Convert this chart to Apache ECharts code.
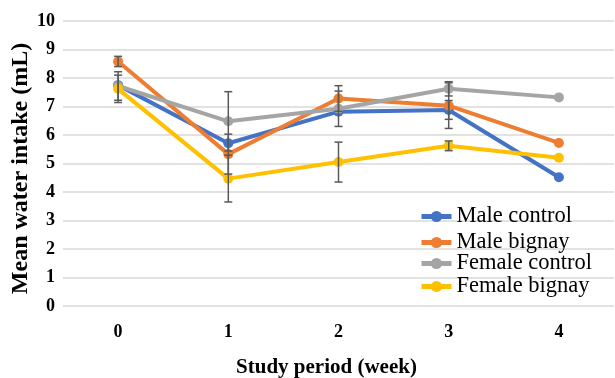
<!DOCTYPE html>
<html>
<head>
<meta charset="utf-8">
<script src="https://cdn.jsdelivr.net/npm/echarts@6/dist/echarts.min.js"></script>
<style>html,body{margin:0;padding:0;background:#fff}#c{width:615px;height:378px}</style>
</head>
<body>
<div id="c"></div>
<script>
const weeks = ['0', '1', '2', '3', '4'];
const seriesNames = ['Male control', 'Male bignay', 'Female control', 'Female bignay'];
const maleControl = [7.75, 5.71, 6.82, 6.88, 4.52];
const maleBignay = [8.58, 5.33, 7.28, 7.03, 5.72];
const femaleControl = [7.72, 6.48, 6.92, 7.62, 7.32];
const femaleBignay = [7.62, 4.47, 5.05, 5.62, 5.2];
const maleControlErr = [0, 0, 0, 0.33, 0];
const maleBignayErr = [0.18, 0.7, 0.45, 0.8, 0];
const femaleControlErr = [0.5, 1.04, 0.62, 0.25, 0];
const femaleBignayErr = [0.48, 0.82, 0.7, 0.17, 0];
const yTicks = [0, 10, 1];

const colors = ['#4472C4', '#ED7D31', '#A5A5A5', '#FFC000'];
const means = [maleControl, maleBignay, femaleControl, femaleBignay];
const errs = [maleControlErr, maleBignayErr, femaleControlErr, femaleBignayErr];
const font = 'Liberation Serif';

const series = [];
means.forEach((m, i) => {
  series.push({
    name: seriesNames[i], type: 'line', data: m,
    symbol: 'circle', symbolSize: 10,
    lineStyle: { width: 4, color: colors[i] },
    itemStyle: { color: colors[i] },
    z: 2 + i
  });
});
errs.forEach((e, i) => {
  const d = [];
  e.forEach((v, k) => { if (v > 0) d.push([k, means[i][k] - v, means[i][k] + v]); });
  series.push({
    type: 'custom', z: 10, silent: true,
    renderItem: function (params, api) {
      const x = api.value(0);
      const lo = api.coord([x, api.value(1)]);
      const hi = api.coord([x, api.value(2)]);
      const hw = 4;
      const st = { stroke: '#595959', lineWidth: 1.5 };
      return { type: 'group', children: [
        { type: 'line', shape: { x1: lo[0], y1: lo[1], x2: hi[0], y2: hi[1] }, style: st },
        { type: 'line', shape: { x1: lo[0] - hw, y1: lo[1], x2: lo[0] + hw, y2: lo[1] }, style: st },
        { type: 'line', shape: { x1: hi[0] - hw, y1: hi[1], x2: hi[0] + hw, y2: hi[1] }, style: st }
      ]};
    },
    encode: { x: 0, y: [1, 2] },
    data: d
  });
});

const legendTops = [205, 231, 252, 275];
const legends = seriesNames.map((n, i) => ({
  data: [n], left: 419, top: legendTops[i], orient: 'vertical', padding: 0,
  itemWidth: 30, itemHeight: 14, itemGap: 0,
  lineStyle: { width: 5 },
  textStyle: { fontFamily: font, fontSize: 22.5, color: '#000' }
}));

const chart = echarts.init(document.getElementById('c'), null, { renderer: 'canvas' });
chart.setOption({
  animation: false,
  backgroundColor: '#fff',
  color: colors,
  grid: { left: 63, right: 1, top: 21, bottom: 72, containLabel: false, outerBoundsMode: 'none' },
  legend: legends,
  xAxis: {
    type: 'category', data: weeks, boundaryGap: true,
    axisLine: { show: false }, axisTick: { show: false },
    axisLabel: { fontFamily: font, fontSize: 18, fontWeight: 'bold', color: '#000', margin: 17 },
    name: 'Study period (week)', nameLocation: 'middle', nameGap: 51, nameMoveOverlap: false,
    nameTextStyle: { fontFamily: font, fontSize: 21, fontWeight: 'bold', color: '#000', padding: [0, 24, 0, 0] }
  },
  yAxis: {
    type: 'value', min: yTicks[0], max: yTicks[1], interval: yTicks[2],
    axisLine: { show: false }, axisTick: { show: false },
    splitLine: { lineStyle: { color: '#D9D9D9', width: 1.5 } },
    axisLabel: { fontFamily: font, fontSize: 18, fontWeight: 'bold', color: '#000', margin: 8 },
    name: 'Mean water intake (mL)', nameLocation: 'middle', nameGap: 30, nameMoveOverlap: false,
    nameTextStyle: { fontFamily: font, fontSize: 24, fontWeight: 'bold', color: '#000', padding: [0, 10, 0, 0] }
  },
  series: series
});
</script>
</body>
</html>
